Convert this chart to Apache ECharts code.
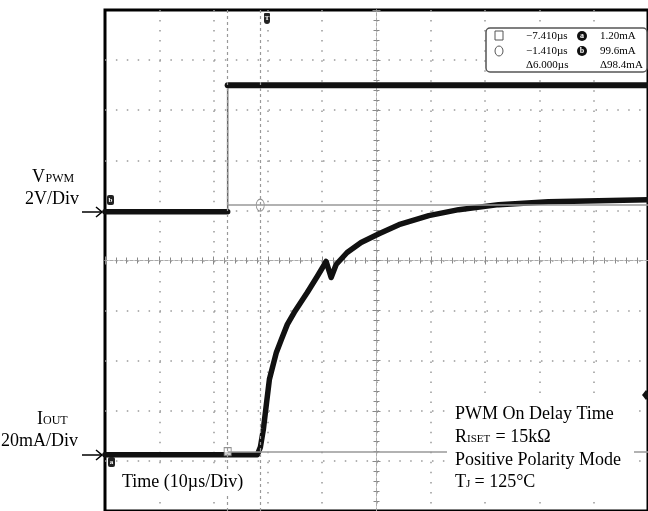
<!DOCTYPE html>
<html>
<head>
<meta charset="utf-8">
<title>PWM On Delay Time</title>
<script src="https://cdn.jsdelivr.net/npm/echarts@6/dist/echarts.min.js"></script>
<style>
html, body { margin: 0; padding: 0; background: #fff; }
#chart { width: 648px; height: 511px; }
</style>
</head>
<body>
<div id="chart"></div>
<script>
// scope time base: 10us/div, screen from -30us to 70us (trigger at 0)
const timeUs = [-30, -1.93, -1.38, -0.83, -0.28, 0.28, 1.56, 2.48, 3.58, 4.86, 7.25, 9.08, 10.73, 11.65, 12.57, 14.59, 17.16, 20.46, 24.13, 29.63, 35.14, 42.48, 51.65, 60.83, 70]
// output current, 20mA/div
const ioutMa = [0, 0, 3.0, 10.2, 20.1, 30.1, 40.8, 46.0, 52.0, 56.8, 64.7, 71.1, 77.1, 70.7, 75.9, 80.7, 84.7, 88.2, 91.8, 95.4, 97.8, 99.8, 101.0, 101.4, 101.8]
// PWM input, 2V/div
const pwmEdgeUs = -7.41
const pwmLevelsV = [0, 5.05]
// cursors
const cursorUs = [-7.41, -1.41]
const cursorMa = [1.2, 99.6]

const serif = '"Liberation Serif", "Times New Roman", serif'

// text helper, y given as baseline
function lab(x, base, text, size, opts) {
  opts = opts || {}
  return {
    type: 'text', x: x, y: base - size * 0.33, z: 100,
    style: {
      text: text, font: (opts.bold ? 'bold ' : '') + size + 'px ' + serif,
      fill: opts.color || '#000', align: opts.align || 'left', verticalAlign: 'middle'
    }
  }
}
function arrow(x1, x2, y) {
  return [
    { type: 'line', z: 100, shape: { x1: x1, y1: y, x2: x2, y2: y }, style: { stroke: '#000', lineWidth: 1.5 } },
    { type: 'polyline', z: 100, shape: { points: [[x2 - 6, y - 5], [x2, y], [x2 - 6, y + 5]] }, style: { stroke: '#000', lineWidth: 1.5, fill: null } }
  ]
}
function tag(x, y, letter) {
  return [
    { type: 'rect', z: 100, shape: { x: x, y: y, width: 7, height: 10, r: 2 }, style: { fill: '#222' } },
    { type: 'text', z: 101, x: x + 3.5, y: y + 5, style: { text: letter, font: 'bold 7px ' + serif, fill: '#fff', align: 'center', verticalAlign: 'middle' } }
  ]
}
function badge(cx, cy, letter) {
  return [
    { type: 'circle', z: 100, shape: { cx: cx, cy: cy, r: 5 }, style: { fill: '#111' } },
    { type: 'text', z: 101, x: cx, y: cy, style: { text: letter, font: 'bold 8px ' + serif, fill: '#fff', align: 'center', verticalAlign: 'middle' } }
  ]
}

function fmtUs(t) { return (t < 0 ? '−' : '') + Math.abs(t).toFixed(3) + 'µs' }
function fmtMa(v) { return v.toPrecision(3) + 'mA' }

const dotGrey = '#999'

const divAxis = function (inside, grid) {
  return {
    type: 'value', min: -5, max: 5, interval: 1,
    axisLine: { show: true, onZero: true, onZeroAxisIndex: 0, lineStyle: { color: '#aaa', width: 1, type: [3, 2] } },
    axisTick: { show: true, inside: inside, length: 4, lineStyle: { color: '#888' } },
    minorTick: { show: true, splitNumber: 5, length: 3, lineStyle: { color: '#888' } },
    axisLabel: { show: false },
    splitLine: { show: grid, showMinLine: false, showMaxLine: false, lineStyle: { color: dotGrey, width: 1.5, type: [1.5, 8.5] } }
  }
}

const xDivIn = divAxis(true, true)
xDivIn.position = 'bottom'
xDivIn.splitLine.lineStyle.type = [1.5, 8.54]
const xDivOut = divAxis(false, false)
xDivOut.position = 'bottom'
const yDivIn = divAxis(true, true)
yDivIn.position = 'left'
yDivIn.splitLine.lineStyle.type = [1.5, 9.4]
const yDivOut = divAxis(false, false)
yDivOut.position = 'left'

const graphics = [
  // left channel labels
  lab(32, 183, 'V', 18), lab(45.5, 183, 'PWM', 12),
  lab(25, 205, '2V/Div', 18),
  lab(37, 425, 'I', 18), lab(43, 425, 'OUT', 12),
  lab(1, 447, '20mA/Div', 18),
  ...arrow(82, 102, 212),
  ...arrow(82, 102, 455),
  // channel ground markers
  ...tag(107, 195, 'b'),
  ...tag(108, 457, 'a'),
  // trigger marker
  { type: 'rect', z: 100, shape: { x: 264, y: 13, width: 6, height: 11, r: [1, 1, 3, 3] }, style: { fill: '#222' } },
  { type: 'text', z: 101, x: 267, y: 18, style: { text: 'T', font: 'bold 7px ' + serif, fill: '#fff', align: 'center', verticalAlign: 'middle' } },
  // trigger level marker on the right edge
  { type: 'polygon', z: 100, shape: { points: [[646, 390], [650, 395], [646, 400], [642, 395]] }, style: { fill: '#111' } },
  // bottom-left caption
  { type: 'rect', z: 99, shape: { x: 118, y: 469, width: 134, height: 27 }, style: { fill: '#fff' } },
  lab(122, 488, 'Time (10µs/Div)', 18),
  // conditions block
  { type: 'rect', z: 99, shape: { x: 447, y: 401, width: 187, height: 94 }, style: { fill: '#fff' } },
  lab(455, 420, 'PWM On Delay Time', 18),
  lab(455, 443, 'R', 18), lab(467, 443, 'ISET', 11), lab(491, 443, ' = 15kΩ', 18),
  lab(455, 466, 'Positive Polarity Mode', 18),
  lab(455, 488, 'T', 18), lab(466, 488, 'J', 11), lab(470, 488, ' = 125°C', 18),
  // cursor readout
  { type: 'rect', z: 99, shape: { x: 486, y: 28, width: 161, height: 44, r: 4 }, style: { fill: '#fff', stroke: '#555', lineWidth: 1.5 } },
  { type: 'rect', z: 100, shape: { x: 495, y: 31, width: 8, height: 9 }, style: { fill: null, stroke: '#555', lineWidth: 1 } },
  { type: 'ellipse', z: 100, shape: { cx: 499, cy: 51, rx: 4, ry: 5 }, style: { fill: null, stroke: '#555', lineWidth: 1 } },
  lab(526, 40, fmtUs(cursorUs[0]), 11),
  lab(526, 55, fmtUs(cursorUs[1]), 11),
  lab(526, 69, 'Δ' + fmtUs(cursorUs[1] - cursorUs[0]), 11),
  ...badge(582, 36, 'a'),
  ...badge(582, 51, 'b'),
  lab(600, 40, fmtMa(cursorMa[0]), 11),
  lab(600, 55, fmtMa(cursorMa[1]), 11),
  lab(600, 69, 'Δ' + fmtMa(cursorMa[1] - cursorMa[0]), 11)
]

const options = {
  animation: false,
  backgroundColor: '#fff',
  grid: { left: 105, top: 10, width: 545, height: 502, show: true, borderColor: '#000', borderWidth: 3, backgroundColor: 'transparent' },
  xAxis: [
    xDivIn, xDivOut,
    { type: 'value', min: -30, max: 70, interval: 10, position: 'top', show: false }
  ],
  yAxis: [
    yDivIn, yDivOut,
    // PWM voltage axis, ground at 1 div above centre
    { type: 'value', min: -11.95, max: 8.05, position: 'right', show: false },
    // output current axis, ground about 3.9 div below centre
    { type: 'value', min: -22.5, max: 177.5, position: 'right', show: false }
  ],
  graphic: graphics,
  series: [
    {
      name: 'cursors', type: 'line', xAxisIndex: 2, yAxisIndex: 3, z: 1, data: [], silent: true,
      markLine: {
        silent: true, symbol: 'none', label: { show: false },
        lineStyle: { color: '#999', width: 1.5, type: 'solid' },
        data: [
          [{ coord: [cursorUs[0], cursorMa[0]] }, { coord: [70, cursorMa[0]] }],
          [{ coord: [cursorUs[0], cursorMa[1]] }, { coord: [70, cursorMa[1]] }],
          { xAxis: cursorUs[0], lineStyle: { type: [3, 3], width: 1.2, color: '#999' } },
          { xAxis: cursorUs[1], lineStyle: { type: [3, 3], width: 1.2, color: '#999' } }
        ]
      }
    },
    {
      name: 'PWM edge', type: 'line', xAxisIndex: 2, yAxisIndex: 2, z: 2, showSymbol: false,
      lineStyle: { color: '#666', width: 1.5 },
      data: [[pwmEdgeUs, pwmLevelsV[0]], [pwmEdgeUs, pwmLevelsV[1]]]
    },
    {
      name: 'PWM low', type: 'line', xAxisIndex: 2, yAxisIndex: 2, z: 3, showSymbol: false,
      lineStyle: { color: '#111', width: 5.5, cap: 'round' },
      data: [[-30, pwmLevelsV[0]], [pwmEdgeUs, pwmLevelsV[0]]]
    },
    {
      name: 'PWM high', type: 'line', xAxisIndex: 2, yAxisIndex: 2, z: 3, showSymbol: false,
      lineStyle: { color: '#111', width: 6, cap: 'round' },
      data: [[pwmEdgeUs, pwmLevelsV[1]], [70, pwmLevelsV[1]]]
    },
    {
      name: 'IOUT', type: 'line', xAxisIndex: 2, yAxisIndex: 3, z: 3, showSymbol: false,
      lineStyle: { color: '#111', width: 5.5, cap: 'round', join: 'round' },
      data: timeUs.map((t, i) => [t, ioutMa[i]])
    },
    {
      name: 'cursor marks', type: 'scatter', xAxisIndex: 2, yAxisIndex: 3, z: 4, silent: true,
      itemStyle: { color: '#fff', borderColor: '#777', borderWidth: 1 },
      data: [
        { value: [cursorUs[0], cursorMa[0]], symbol: 'rect', symbolSize: [7, 8] },
        { value: [cursorUs[1], cursorMa[1]], symbol: 'circle', symbolSize: [8, 12] }
      ]
    }
  ]
}

let chart
const initChart = () => {
  const c = echarts.init(document.getElementById('chart'))
  c.setOption(options)
  return c
}
chart = initChart()
window.addEventListener('resize', function () {
  chart && chart.resize()
})
</script>
</body>
</html>
